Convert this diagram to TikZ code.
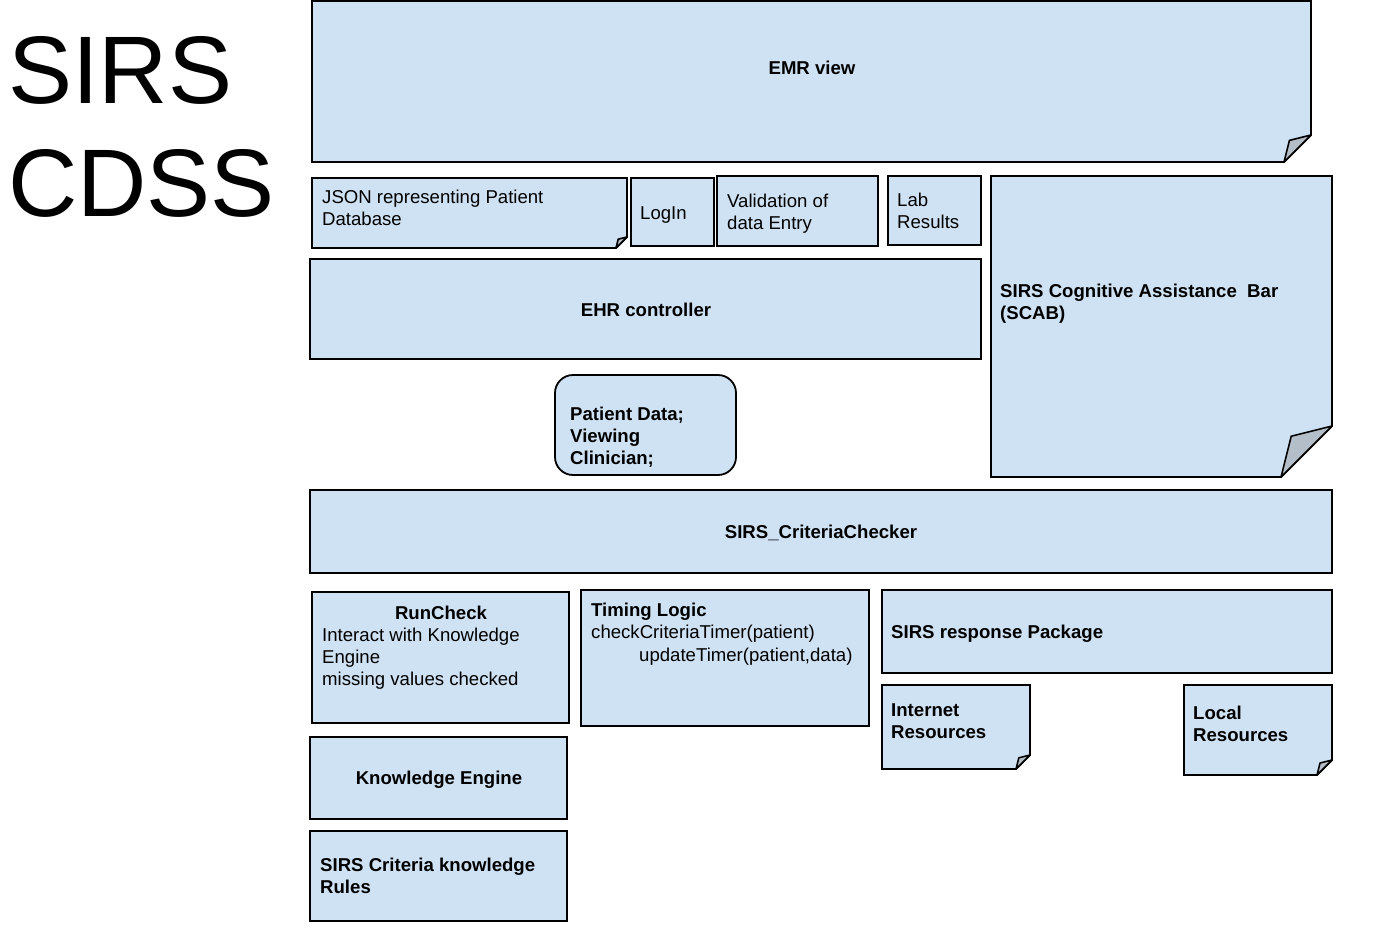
\documentclass[tikz,border=0pt]{standalone}
\usepackage{fontspec}
\setmainfont{Liberation Sans}
\definecolor{boxblue}{HTML}{CFE2F3}
\definecolor{foldgray}{HTML}{B4BEC8}
\newcommand\mlines[1]{\begin{tabular}[t]{@{}l@{}}#1\end{tabular}}
\tikzset{
  boxsty/.style={draw=black, fill=boxblue, line width=1.8pt, line join=miter},
  foldsty/.style={draw=black, fill=foldgray, line width=1.6pt, line join=round},
  lbl/.style={inner sep=0pt, font=\fontsize{18.6}{22}\selectfont},
  blbl/.style={inner sep=0pt, font=\fontsize{18.6}{22}\selectfont\bfseries},
  ttl/.style={inner sep=0pt, font=\fontsize{96}{113}\selectfont},
}
\newcommand\plainbox[4]{\draw[boxsty] (#1,#2) rectangle (#3,#4);}
\newcommand\foldbox[5]{%
  \draw[boxsty] (#1,#2) -- (#3,#2) -- (#3,{#4-#5}) -- ({#3-#5},#4) -- (#1,#4) -- cycle;
  \draw[foldsty] (#3,{#4-#5}) -- ({#3-0.8*#5},{#4-0.8*#5}) -- ({#3-#5},#4) -- cycle;}
\begin{document}
\begin{tikzpicture}[x=1pt,y=-1pt]
\useasboundingbox (0,0) rectangle (1391,938);
% title
\node[ttl, anchor=base west] (title) at (8,103) {\mlines{SIRS\\CDSS}};
% EMR view
\foldbox{312}{1}{1311}{162}{27}
\node[blbl, anchor=base] (emr) at (812,74) {EMR view};
% top row
\foldbox{312}{178}{627}{248}{11}
\node[lbl, anchor=base west] (json) at (322,203) {\mlines{JSON representing Patient\\Database}};
\plainbox{631}{178}{714}{246}
\node[lbl, anchor=base west] (login) at (640,219) {LogIn};
\plainbox{717}{176}{878}{246}
\node[lbl, anchor=base west] (valid) at (727,207) {\mlines{Validation of\\data Entry}};
\plainbox{888}{176}{981}{245}
\node[lbl, anchor=base west] (lab) at (897,206) {\mlines{Lab\\Results}};
% SCAB
\foldbox{991}{176}{1332}{477}{51}
\node[blbl, anchor=base west] (scab) at (1000,297) {\mlines{SIRS Cognitive Assistance\ \ Bar\\(SCAB)}};
% EHR controller
\plainbox{310}{259}{981}{359}
\node[blbl, anchor=base] (ehr) at (646,316) {EHR controller};
% Patient data
\draw[boxsty, rounded corners=18pt] (555,375) rectangle (736,475);
\node[blbl, anchor=base west] (pdata) at (570,420) {\mlines{Patient Data;\\Viewing\\Clinician;}};
% Criteria checker
\plainbox{310}{490}{1332}{573}
\node[blbl, anchor=base] (checker) at (821,538) {SIRS\_CriteriaChecker};
% RunCheck
\plainbox{312}{592}{569}{723}
\node[blbl, anchor=base] (runcheck) at (441,619) {RunCheck};
\node[lbl, anchor=base west] (runtext) at (322,641) {\mlines{Interact with Knowledge\\Engine\\missing values checked}};
% Timing logic
\plainbox{581}{590}{869}{726}
\node[blbl, anchor=base west] (timing) at (591,616) {Timing Logic};
\node[lbl, anchor=base west] (timer1) at (591,638) {checkCriteriaTimer(patient)};
\node[lbl, anchor=base west] (timer2) at (639,661) {updateTimer(patient,data)};
% response package
\plainbox{882}{590}{1332}{673}
\node[blbl, anchor=base west] (resp) at (891,638) {SIRS response Package};
\foldbox{882}{685}{1030}{769}{14}
\node[blbl, anchor=base west] (inet) at (891,716) {\mlines{Internet\\Resources}};
\foldbox{1184}{685}{1332}{775}{15}
\node[blbl, anchor=base west] (local) at (1193,719) {\mlines{Local\\Resources}};
% Knowledge engine
\plainbox{310}{737}{567}{819}
\node[blbl, anchor=base] (ke) at (439,784) {Knowledge Engine};
\plainbox{310}{831}{567}{921}
\node[blbl, anchor=base west] (rules) at (320,871) {\mlines{SIRS Criteria knowledge\\Rules}};
\end{tikzpicture}
\end{document}
